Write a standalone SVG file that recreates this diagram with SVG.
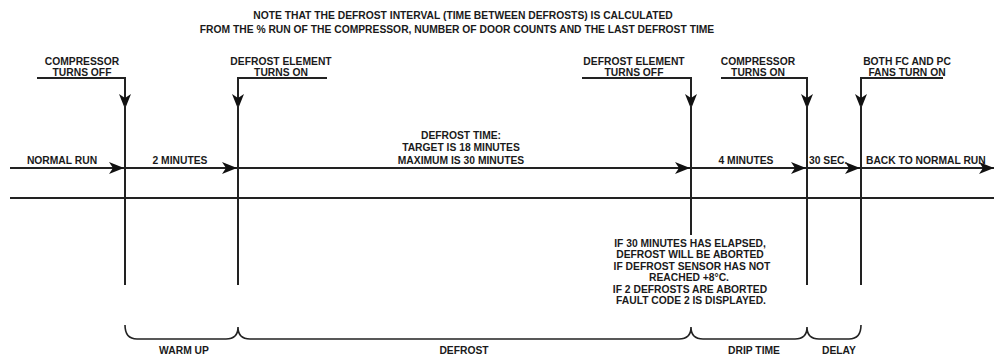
<svg xmlns="http://www.w3.org/2000/svg" width="994" height="356" viewBox="0 0 994 356">
<style>
text{font-family:"Liberation Sans",Arial,sans-serif;font-weight:bold;font-size:10.3px;fill:#1a1a1a}
.c{text-anchor:middle}
.ln{stroke:#222;stroke-width:2;fill:none}
.br{stroke:#222;stroke-width:1.6;fill:none}
</style>
<defs>
<marker id="ah" markerWidth="16" markerHeight="14" refX="15" refY="7" orient="auto" markerUnits="userSpaceOnUse">
<path d="M0,1 L15,7 L0,13 L4,7 Z" fill="#111"/>
</marker>
</defs>
<rect width="994" height="356" fill="#fff"/>
<g id="title">
<text class="c" x="463" y="19">NOTE THAT THE DEFROST INTERVAL (TIME BETWEEN DEFROSTS) IS CALCULATED</text>
<text class="c" x="457" y="32.5">FROM THE % RUN OF THE COMPRESSOR, NUMBER OF DOOR COUNTS AND THE LAST DEFROST TIME</text>
</g>
<g id="connectors">
<line class="ln" x1="10" y1="198" x2="994" y2="198"/>
<line class="ln" x1="10" y1="168" x2="124" y2="168" marker-end="url(#ah)"/>
<line class="ln" x1="125" y1="168" x2="237" y2="168" marker-end="url(#ah)"/>
<line class="ln" x1="238" y1="168" x2="690" y2="168" marker-end="url(#ah)"/>
<line class="ln" x1="691" y1="168" x2="806" y2="168" marker-end="url(#ah)"/>
<line class="ln" x1="807" y1="168" x2="860" y2="168" marker-end="url(#ah)"/>
<line class="ln" x1="861" y1="168" x2="994" y2="168" marker-end="url(#ah)"/>
<path class="ln" d="M37,78 H125 V109" marker-end="url(#ah)"/>
<path class="ln" d="M327,78 H238 V109" marker-end="url(#ah)"/>
<path class="ln" d="M582,78 H691 V109" marker-end="url(#ah)"/>
<path class="ln" d="M721,78 H807 V109" marker-end="url(#ah)"/>
<path class="ln" d="M943,78 H861 V109" marker-end="url(#ah)"/>
<line class="ln" x1="125" y1="105" x2="125" y2="285"/>
<line class="ln" x1="238" y1="105" x2="238" y2="285"/>
<line class="ln" x1="691" y1="105" x2="691" y2="235"/>
<line class="ln" x1="807" y1="105" x2="807" y2="285"/>
<line class="ln" x1="861" y1="105" x2="861" y2="285"/>
<path class="br" d="M125,325 Q125,339 137,339 H226 Q238,339 238,327 Q238,339 250,339 H679 Q691,339 691,327 Q691,339 703,339 H795 Q807,339 807,327 Q807,339 819,339 H849 Q861,339 861,325"/>
</g>
<g id="event-compressor-off">
<text class="c" x="82" y="65">COMPRESSOR</text>
<text class="c" x="82" y="76">TURNS OFF</text>
</g>
<g id="event-defrost-on">
<text class="c" x="281" y="65">DEFROST ELEMENT</text>
<text class="c" x="281" y="76">TURNS ON</text>
</g>
<g id="event-defrost-off">
<text class="c" x="634" y="65">DEFROST ELEMENT</text>
<text class="c" x="634" y="76">TURNS OFF</text>
</g>
<g id="event-compressor-on">
<text class="c" x="758" y="65">COMPRESSOR</text>
<text class="c" x="758" y="76">TURNS ON</text>
</g>
<g id="event-fans-on">
<text class="c" x="907" y="65">BOTH FC AND PC</text>
<text class="c" x="907" y="76">FANS TURN ON</text>
</g>
<g id="seg-normal-run"><text class="c" x="62" y="163.5">NORMAL RUN</text></g>
<g id="seg-2min"><text class="c" x="180" y="163.5">2 MINUTES</text></g>
<g id="seg-defrost-time">
<text class="c" x="461" y="139">DEFROST TIME:</text>
<text class="c" x="461" y="151">TARGET IS 18 MINUTES</text>
<text class="c" x="461" y="163.5">MAXIMUM IS 30 MINUTES</text>
</g>
<g id="seg-4min"><text class="c" x="746" y="163.5">4 MINUTES</text></g>
<g id="seg-30sec"><text x="809" y="163.5">30 SEC.</text></g>
<g id="seg-back"><text x="866" y="163.5">BACK TO NORMAL RUN</text></g>
<g id="note-abort">
<text class="c" x="690" y="246.5">IF 30 MINUTES HAS ELAPSED,</text>
<text class="c" x="690" y="258">DEFROST WILL BE ABORTED</text>
<text class="c" x="692" y="269.5">IF DEFROST SENSOR HAS NOT</text>
<text class="c" x="689" y="281">REACHED +8°C.</text>
<text class="c" x="690" y="292.5">IF 2 DEFROSTS ARE ABORTED</text>
<text class="c" x="691" y="304">FAULT CODE 2 IS DISPLAYED.</text>
</g>
<g id="phase-warmup"><text class="c" x="184" y="354">WARM UP</text></g>
<g id="phase-defrost"><text class="c" x="464" y="354">DEFROST</text></g>
<g id="phase-drip"><text class="c" x="754" y="354">DRIP TIME</text></g>
<g id="phase-delay"><text class="c" x="839" y="354">DELAY</text></g>
</svg>
